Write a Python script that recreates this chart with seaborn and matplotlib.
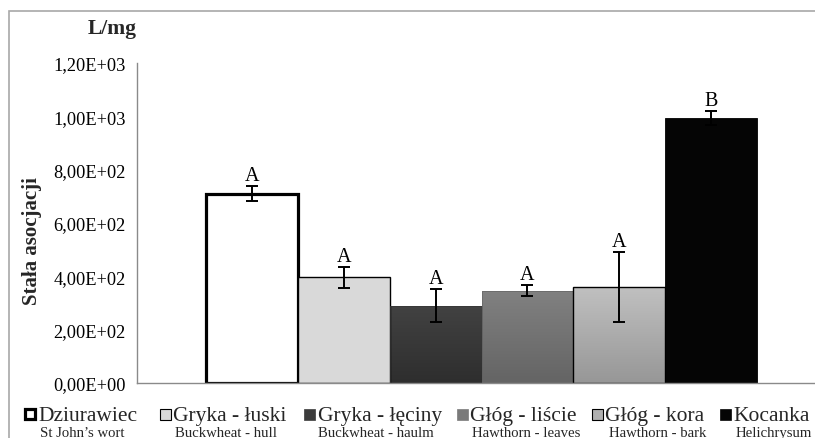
import numpy as np
import pandas as pd
import matplotlib
matplotlib.use("Agg")
import matplotlib.pyplot as plt
import seaborn as sns
from matplotlib.patches import Rectangle
from matplotlib.colors import LinearSegmentedColormap
from matplotlib.ticker import FuncFormatter

# ---------------- data ----------------
categories_pl = ["Dziurawiec", "Gryka - łuski", "Gryka - łęciny",
                 "Głóg - liście", "Głóg - kora", "Kocanka"]
categories_en = ["St John\u2019s wort", "Buckwheat - hull", "Buckwheat - haulm",
                 "Hawthorn - leaves", "Hawthorn - bark", "Helichrysum"]
values = [710, 396, 290, 346, 359, 994]
errors = [28, 39, 61, 20, 131, 27]
letters = ["A", "A", "A", "A", "A", "B"]
y_ticks = [0, 200, 400, 600, 800, 1000, 1200]

# ---------------- styles ----------------
bar_fill = ["#ffffff", "#d9d9d9", "#3a3a3a", "#747474", "#adadad", "#050505"]
gradients = [None, None, ("#2e2e2e", "#424242"), ("#646464", "#818181"),
             ("#979797", "#c0c0c0"), None]
edge_colors = ["#000000", "#000000", "#383838", "#6a6a6a", "#000000", "#000000"]
edge_widths = [2.3, 1.0, 0.6, 0.6, 1.0, 0.6]
legend_fill = ["#ffffff", "#d9d9d9", "#3c3c3c", "#7a7a7a", "#b0b0b0", "#050505"]

sns.set_style("white")
plt.rcParams["font.family"] = ["Liberation Serif", "DejaVu Serif"]

W, H = 815, 439
fig = plt.figure(figsize=(W / 100, H / 100), dpi=100)
ax = fig.add_axes([137 / W, (H - 384) / H, (W - 137) / W, 320 / H])

df = pd.DataFrame({"cat": categories_pl, "val": values})
sns.barplot(data=df, x="cat", y="val", hue="cat", palette=bar_fill,
            width=1.0, saturation=1, errorbar=None, legend=False, ax=ax)

grad_ramp = np.linspace(0, 1, 256).reshape(-1, 1)
for i, patch in enumerate(ax.patches):
    patch.set_edgecolor(edge_colors[i])
    patch.set_linewidth(edge_widths[i])
    patch.set_zorder(2)
    if gradients[i] is not None:
        patch.set_facecolor("none")
        cmap = LinearSegmentedColormap.from_list("g%d" % i, list(gradients[i]))
        x0 = patch.get_x()
        im = ax.imshow(grad_ramp, cmap=cmap, origin="lower", aspect="auto",
                       extent=(x0, x0 + patch.get_width(), 0, patch.get_height()),
                       zorder=1.5, interpolation="bilinear")
        im.set_clip_path(patch)

xpos = np.arange(len(values))
ax.errorbar(xpos, values, yerr=errors, fmt="none", ecolor="black",
            elinewidth=1.4, capsize=4.5, capthick=1.4, zorder=4)

for i in range(len(values)):
    ax.annotate(letters[i], (xpos[i], values[i] + errors[i]),
                xytext=(0, 4.3), textcoords="offset points",
                ha="center", va="baseline", fontsize=14.5, color="black")

ax.set_xlim(-1.25, 6.13)
ax.set_ylim(0, 1200)
ax.set_yticks(y_ticks)
ax.yaxis.set_major_formatter(FuncFormatter(lambda v, p: f"{v:.2E}".replace(".", ",")))
ax.set_xticks([])
ax.set_xlabel("")
ax.set_ylabel("")
for s in ["top", "right"]:
    ax.spines[s].set_visible(False)
for s in ["left", "bottom"]:
    ax.spines[s].set_color("#8a8a8a")
    ax.spines[s].set_linewidth(1.0)
ax.tick_params(axis="y", direction="out", length=3, width=1.0, color="#8a8a8a",
               labelsize=13.2, pad=5, labelcolor="black")

# titles
fig.text(112 / W, 1 - 34 / H, "L/mg", fontweight="bold", fontsize=15.5,
         ha="center", va="baseline")
fig.text(31.5 / W, 1 - 241 / H, "Stała asocjacji", fontweight="bold", fontsize=15,
         rotation=90, ha="center", va="center")

# outer frame
fig.add_artist(Rectangle((9 / W, -0.1), 2, (1 - 12 / H) + 0.1,
                         transform=fig.transFigure, fill=False,
                         edgecolor="#a8a8a8", lw=1.2))

# legend (manual, bottom)
marker_left = [24.5, 160, 304, 457, 592, 720]
marker_size = [10, 11, 11, 11, 11, 11]
marker_lw = [2.3, 0.8, 0.5, 0.5, 0.8, 0.5]
marker_edge = ["#000000", "#000000", "#3c3c3c", "#7a7a7a", "#000000", "#050505"]
text_left = [38, 173, 318, 470, 605, 733]
en_center = [82, 226, 376, 526, 658, 774]
for i in range(len(categories_pl)):
    sz = marker_size[i]
    fig.add_artist(Rectangle((marker_left[i] / W, 1 - (415 + sz / 2) / H),
                             sz / W, sz / H, transform=fig.transFigure,
                             facecolor=legend_fill[i], edgecolor=marker_edge[i],
                             lw=marker_lw[i]))
    fig.text(text_left[i] / W, 1 - 421 / H, categories_pl[i], fontsize=15.5,
             ha="left", va="baseline")
    fig.text(en_center[i] / W, 1 - 437 / H, categories_en[i], fontsize=10.6,
             ha="center", va="baseline")

fig.savefig("out.png", dpi=100)
